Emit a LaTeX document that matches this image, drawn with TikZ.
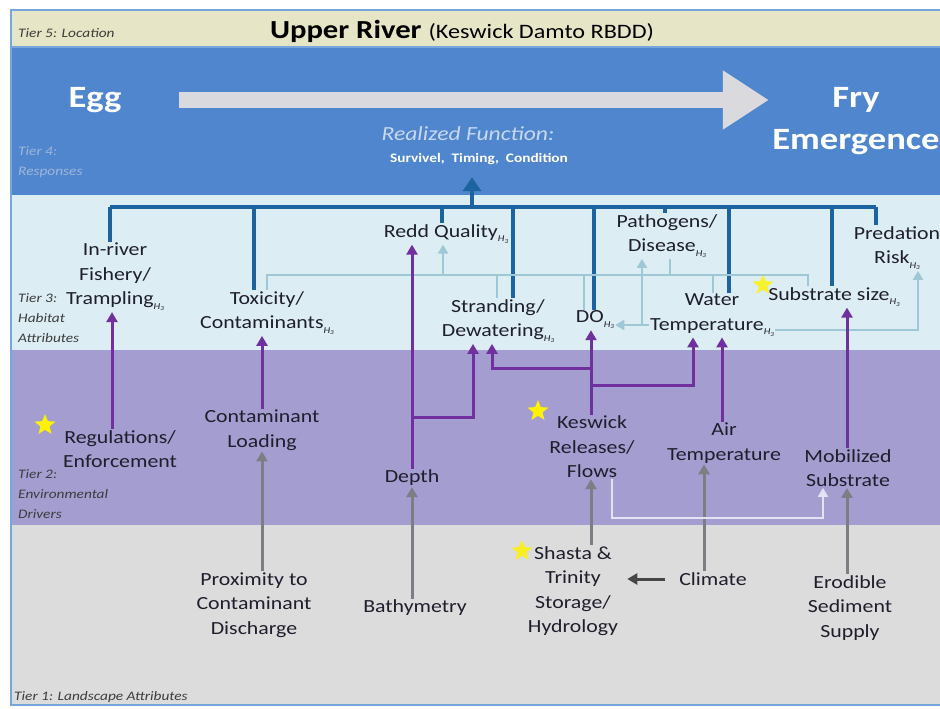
\documentclass[tikz,border=0pt]{standalone}
\usepackage{fontspec}
\setmainfont{Carlito}[FakeStretch=1.18]
\usepackage{tikz}
\usepackage{xcolor}
\usetikzlibrary{shapes.geometric, arrows, arrows.meta}

\definecolor{tierfive}{RGB}{230,230,198}
\definecolor{tierfour}{RGB}{80,134,205}
\definecolor{tierthree}{RGB}{221,237,244}
\definecolor{tiertwo}{RGB}{164,157,208}
\definecolor{tierone}{RGB}{220,220,220}
\definecolor{frameblue}{RGB}{120,165,220}
\definecolor{busblue}{RGB}{28,100,160}
\definecolor{lightbus}{RGB}{158,200,214}
\definecolor{purp}{RGB}{112,48,160}
\definecolor{greyarr}{RGB}{125,125,132}
\definecolor{darkarr}{RGB}{70,70,70}
\definecolor{lavline}{RGB}{228,226,245}
\definecolor{bigarr}{RGB}{218,218,222}
\definecolor{txt}{RGB}{30,30,45}
\definecolor{tierlbl}{RGB}{60,60,60}
\definecolor{tierlblb}{RGB}{160,182,218}
\definecolor{rfcol}{RGB}{200,216,240}

\newcommand{\hsb}{\raisebox{-4.5pt}{\fontsize{9}{9}\selectfont\itshape H\raisebox{-1.5pt}{\fontsize{6}{6}\selectfont 3}}}

\tikzstyle{attr} = [align=center, inner sep=1pt, text=txt, font=\fontsize{18.5}{24.5}\selectfont]
\tikzstyle{tier} = [anchor=west, inner sep=0pt, align=left, text=tierlbl, font=\fontsize{13}{20}\selectfont\itshape]
\tikzstyle{bus} = [draw=busblue, line width=3.5pt]
\tikzstyle{lbline} = [draw=lightbus, line width=2.5pt]
\tikzstyle{lbarrow} = [lbline, -{Triangle[length=9pt,width=10pt]}]
\tikzstyle{parrow} = [draw=purp, line width=3pt, -{Triangle[length=10pt,width=11pt]}]
\tikzstyle{garrow} = [draw=greyarr, line width=3pt, -{Triangle[length=10pt,width=11pt]}]
\tikzstyle{darrow} = [draw=darkarr, line width=3pt, -{Triangle[length=10pt,width=11pt]}]
\tikzstyle{warrow} = [draw=lavline, line width=2.5pt, -{Triangle[length=9pt,width=10pt]}]
\tikzstyle{bigarrow} = [draw=bigarr, line width=16pt, -{Triangle[length=46pt,width=56pt]}]
\tikzstyle{keystar} = [star, star points=5, star point ratio=2.3, fill=yellow, draw=none, minimum size=22pt, inner sep=0pt]

\begin{document}
\begin{tikzpicture}[x=1pt, y=-1pt]
    \useasboundingbox (0,0) rectangle (940,709);
    \fill[white] (0,0) rectangle (940,709);
    % tier bands
    \fill[tierfive] (11,10) rectangle (945,47);
    \fill[tierfour] (11,47) rectangle (945,195);
    \fill[tierthree] (11,195) rectangle (945,350);
    \fill[tiertwo] (11,350) rectangle (945,525);
    \fill[tierone] (11,525) rectangle (945,704);
    \draw[frameblue, line width=2pt] (11,10) rectangle (945,705);
    \draw[frameblue, line width=1.5pt] (11,47) -- (945,47);

    \node[tier] (t5) at (18,33) {Tier 5: Location};
    \node[tier, text=tierlblb] (t4) at (18,162) {Tier 4:\\Responses};
    \node[tier] (t3) at (18,318) {Tier 3:\\Habitat\\Attributes};
    \node[tier] (t2) at (18,494) {Tier 2:\\Environmental\\Drivers};
    \node[tier] (t1) at (14,697) {Tier 1: Landscape Attributes};

    \node[text=black, font=\fontsize{26}{30}\selectfont\bfseries] (title) at (462,31)
        {Upper River \mdseries\fontsize{20.5}{24}\selectfont(Keswick Damto RBDD)};

    % responses
    \node[text=white, font=\fontsize{31}{36}\selectfont\bfseries] (egg) at (95,100) {Egg};
    \node[text=white, align=center, font=\fontsize{31}{42}\selectfont\bfseries] (fry) at (856,121) {Fry\\Emergence};
    \draw[bigarrow, shorten <=54pt] (egg.east) -- (fry.west |- egg.east);
    \node[text=rfcol, font=\fontsize{20}{24}\selectfont\itshape] (realized) at (468,134) {Realized Function:};
    \node[text=white, font=\fontsize{13}{16}\selectfont\bfseries] (surv) at (479,159) {Survivel,\ \ Timing,\ \ Condition};

    % stars
    \node[keystar] (star1) at (45,425) {};
    \node[keystar] (star2) at (538,411) {};
    \node[keystar, opacity=0.85] (star3) at (522,551) {};
    \node[keystar, opacity=0.8] (star4) at (763,285) {};

    % tier 3
    \node[attr] (inriver) at (115,277) {In-river\\Fishery/\\Trampling\hsb};
    \node[attr] (toxic) at (267,313) {Toxicity/\\Contaminants\hsb};
    \node[attr] (redd) at (446,234) {Redd Quality\hsb};
    \node[attr] (strand) at (498,321) {Stranding/\\Dewatering\hsb};
    \node[attr] (do) at (595,320) {DO\hsb};
    \node[attr] (patho) at (667,236) {Pathogens/\\Disease\hsb};
    \node[attr] (watert) at (712,315) {Water\\Temperature\hsb};
    \node[attr] (subsz) at (834,297) {Substrate size\hsb};
    \node[attr] (pred) at (897,248) {Predation\\Risk\hsb};

    % tier 2
    \node[attr] (regul) at (120,449) {Regulations/\\Enforcement};
    \node[attr] (contl) at (262,430) {Contaminant\\Loading};
    \node[attr] (depth) at (412,478) {Depth};
    \node[attr] (keswick) at (592,447) {Keswick\\Releases/\\Flows};
    \node[attr] (airt) at (724,443) {Air\\Temperature};
    \node[attr] (mobil) at (848,468) {Mobilized\\Substrate};

    % tier 1
    \node[attr] (proxim) at (254,605) {Proximity to\\Contaminant\\Discharge};
    \node[attr] (bathy) at (415,608) {Bathymetry};
    \node[attr] (shasta) at (573,591) {Shasta \&\\Trinity\\Storage/\\Hydrology};
    \node[attr] (climate) at (713,579) {Climate};
    \node[attr] (erod) at (850,608) {Erodible\\Sediment\\Supply};

    % habitat -> response bus
    \coordinate (busl) at (110,207);
    \coordinate (busr) at (876,207);
    \coordinate (bmid) at (472,207);
    \draw[bus] (busl) -- (busr);
    \draw[bus, -{Triangle[length=14pt,width=18pt]}, shorten >=9pt] (bmid) -- (surv.south -| bmid);
    \draw[bus] (busl) -- (inriver.north -| busl);
    \draw[bus] (254,207) -- (toxic.north -| 254,0);
    \draw[bus] (442,207) -- (redd.north -| 442,0);
    \draw[bus] (513,207) -- (strand.north -| 513,0);
    \draw[bus] (594,207) -- (do.north -| 594,0);
    \draw[bus] (665,207) -- (patho.north -| 665,0);
    \draw[bus] (729,207) -- (watert.north -| 729,0);
    \draw[bus] (832,207) -- (subsz.north -| 832,0);
    \draw[bus] (busr) -- (pred.north -| busr);

    % redd quality links
    \coordinate (lbl) at (267,275);
    \coordinate (lbr) at (808,275);
    \draw[lbline] (toxic.north -| lbl) -- (lbl) -- (lbr) -- (subsz.north -| lbr);
    \draw[lbarrow] (443,275) -- (redd.south -| 443,0);
    \draw[lbline] (497,275) -- (strand.north -| 497,0);
    \draw[lbline] (584,275) -- (do.north -| 584,0);
    \draw[lbline] (670,275) -- (patho.south -| 670,0);
    \draw[lbline] (713,275) -- (watert.north -| 713,0);

    % water temperature links
    \coordinate (wtl) at (642,325);
    \coordinate (wtr) at (918,330);
    \draw[lbline] (watert.west |- wtl) -- (wtl);
    \draw[lbarrow] (wtl) -- (patho.south -| wtl);
    \draw[lbarrow] (wtl) -- (do.east |- wtl);
    \draw[lbarrow] (watert.east |- wtr) -- (wtr) -- (pred.south -| wtr);

    % drivers -> habitat
    \draw[parrow] (regul.north -| 112,0) -- (inriver.south -| 112,0);
    \draw[parrow] (contl.north) -- (toxic.south -| contl.north);
    \draw[parrow] (depth.north) -- (redd.south -| depth.north);
    \draw[parrow] (412,417) -- (473,417) -- (strand.south -| 473,0);
    \draw[parrow] (keswick.north -| 591,0) -- (do.south -| 591,0);
    \draw[parrow] (591,368) -- (492,368) -- (strand.south -| 492,0);
    \draw[parrow] (591,385) -- (693,385) -- (watert.south -| 693,0);
    \draw[parrow] (airt.north -| 722,0) -- (watert.south -| 722,0);
    \draw[parrow] (mobil.north -| 847,0) -- (subsz.south -| 847,0);

    % landscape -> drivers
    \draw[garrow] (proxim.north -| contl.south) -- (contl.south);
    \draw[garrow] (bathy.north -| depth.south) -- (depth.south);
    \draw[garrow] (shasta.north -| 591,0) -- (keswick.south -| 591,0);
    \draw[garrow] (climate.north -| 704,0) -- (airt.south -| 704,0);
    \draw[garrow] (erod.north -| 847,0) -- (mobil.south -| 847,0);
    \draw[darrow, shorten <=13pt, shorten >=8pt] (climate.west) -- (shasta.east |- climate.west);
    \draw[warrow] (keswick.south -| 612,0) -- (612,518) -- (823,518) -- (mobil.south -| 823,0);
\end{tikzpicture}
\end{document}
